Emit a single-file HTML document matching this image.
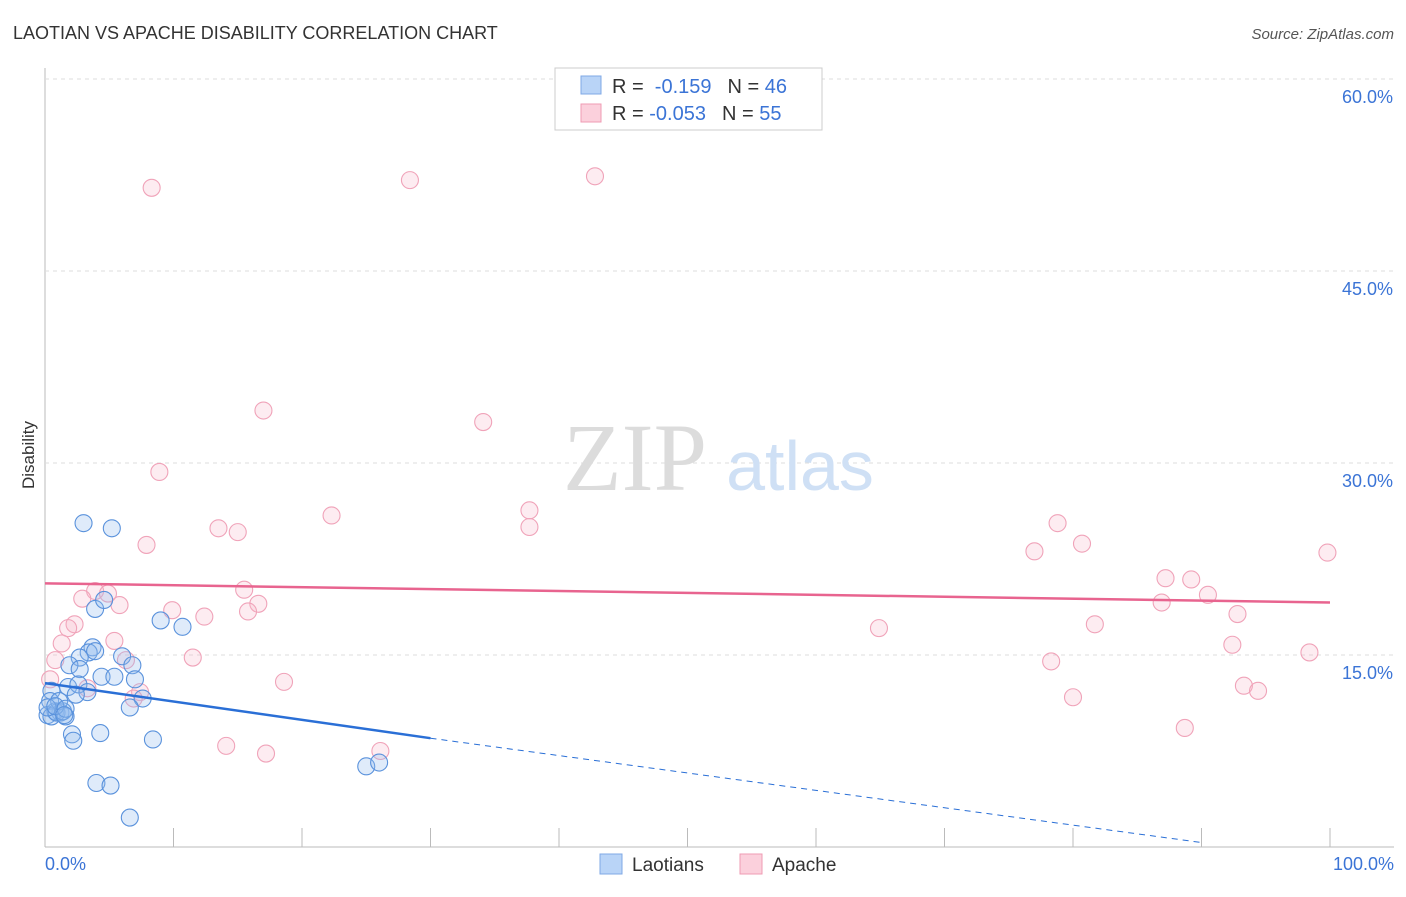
<!DOCTYPE html>
<html><head><meta charset="utf-8"><style>
body{margin:0;background:#fff;font-family:"Liberation Sans",sans-serif}
</style></head><body>
<svg width="1406" height="892">
<g id="grid"></g>
<text x="13" y="39" font-size="18" fill="#333">LAOTIAN VS APACHE DISABILITY CORRELATION CHART</text>
<text x="1394" y="39" font-size="15" fill="#555" font-style="italic" text-anchor="end">Source: ZipAtlas.com</text>
<text x="635" y="490" font-size="96" fill="#dcdcdc" font-family="Liberation Serif" text-anchor="middle">ZIP</text>
<text x="800" y="490" font-size="70" fill="#cfe0f5" text-anchor="middle">atlas</text>
<text x="34" y="455" font-size="17" fill="#333" transform="rotate(-90 34 455)" text-anchor="middle">Disability</text>
<text x="45" y="870" font-size="18" fill="#3b74d6">0.0%</text>
<text x="1394" y="870" font-size="18" fill="#3b74d6" text-anchor="end">100.0%</text>
<g id="marks"></g>
<g>
<rect x="555" y="68" width="267" height="62" fill="#fff" stroke="#ccc"/>
<rect x="581" y="76" width="20" height="18" fill="#b9d4f7" stroke="#7fa8e6"/>
<rect x="581" y="104" width="20" height="18" fill="#fbd0dc" stroke="#ef9bb3"/>
<text x="612" y="93" font-size="20" fill="#333">R = <tspan fill="#3b74d6">&#160;-0.159</tspan><tspan dx="16">N = </tspan><tspan fill="#3b74d6">46</tspan></text>
<text x="612" y="120" font-size="20" fill="#333">R = <tspan fill="#3b74d6">-0.053</tspan><tspan dx="16">N = </tspan><tspan fill="#3b74d6">55</tspan></text>
</g>
<g>
<rect x="600" y="854" width="22" height="20" fill="#b9d4f7" stroke="#7fa8e6"/>
<text x="632" y="871" font-size="19" fill="#333">Laotians</text>
<rect x="740" y="854" width="22" height="20" fill="#fbd0dc" stroke="#ef9bb3"/>
<text x="772" y="871" font-size="19" fill="#333">Apache</text>
</g>
</svg>
<script>
const yTicks=[15,30,45,60];
const yTickLabels=["15.0%","30.0%","45.0%","60.0%"];
const xTicks=[0,10,20,30,40,50,60,70,80,90,100];
const laoX=[3.0,5.2,3.9,4.6,9.0,10.7,3.7,3.4,3.9,2.7,1.9,2.7,6.0,6.8,4.4,5.4,7.0,1.8,2.6,3.3,2.4,7.6,6.6,0.5,0.4,0.8,1.2,0.2,0.5,0.9,1.6,1.4,2.1,2.2,4.3,8.4,4.0,5.1,6.6,25.0,26.0,1.1,0.2,0.8,1.6,1.5];
const laoY=[25.3,24.9,18.6,19.3,17.7,17.2,15.6,15.2,15.3,14.8,14.2,13.9,14.9,14.2,13.3,13.3,13.1,12.5,12.7,12.1,11.9,11.6,10.9,12.2,11.4,10.6,10.5,10.3,10.2,10.5,10.2,10.6,8.8,8.3,8.9,8.4,5.0,4.8,2.3,6.3,6.6,11.4,10.9,11.0,10.8,10.3];
const apX=[8.3,28.4,42.8,17.0,34.1,8.9,22.3,37.7,37.7,13.5,15.0,7.9,15.5,16.6,15.8,3.9,4.9,2.9,5.8,9.9,12.4,2.3,1.8,1.3,5.4,6.3,11.5,0.8,0.4,3.3,7.4,6.9,18.6,14.1,17.2,26.1,64.9,77.0,78.8,80.7,87.2,89.2,86.9,90.5,92.8,81.7,78.3,92.4,80.0,93.3,94.4,88.7,98.4,99.8];
const apY=[51.5,52.1,52.4,34.1,33.2,29.3,25.9,26.3,25.0,24.9,24.6,23.6,20.1,19.0,18.4,20.0,19.8,19.4,18.9,18.5,18.0,17.4,17.1,15.9,16.1,14.6,14.8,14.6,13.1,12.4,12.1,11.6,12.9,7.9,7.3,7.5,17.1,23.1,25.3,23.7,21.0,20.9,19.1,19.7,18.2,17.4,14.5,15.8,11.7,12.6,12.2,9.3,15.2,23.0];
const laoLine=[[0,12.8],[30,8.5]];
const laoDash=[[30,8.5],[90,0.35]];
const apLine=[[0,20.6],[100,19.1]];
const X=v=>45+v*12.85, Y=v=>847-v*12.8;
const NS="http://www.w3.org/2000/svg";
function mk(t,a,p){const e=document.createElementNS(NS,t);for(const k in a)e.setAttribute(k,a[k]);p.appendChild(e);return e;}
const g=document.getElementById('grid'), m=document.getElementById('marks');
let ax=mk('line',{x1:45,y1:68,x2:45,y2:847,stroke:'#bbb'},g);


let bx=mk('line',{x1:45,y1:847,x2:1394,y2:847,stroke:'#bbb'},g);


let tg=mk('line',{x1:45,y1:79,x2:1394,y2:79,stroke:'#ddd','stroke-dasharray':'4 4'},g);


yTicks.forEach((t,i)=>{
 const l=mk('line',{x1:45,y1:Y(t),x2:1394,y2:Y(t),stroke:'#ddd','stroke-dasharray':'4 4'},g);
 
 
 const tx=mk('text',{x:1393,y:Y(t)+24,'font-size':18,fill:'#3b74d6','text-anchor':'end'},g);
 tx.textContent=yTickLabels[i];
 
 
});
xTicks.forEach(t=>{
 const l=mk('line',{x1:X(t),y1:828,x2:X(t),y2:847,stroke:'#bbb'},g);
 
 
});
apX.forEach((x,i)=>{
 const c=mk('circle',{cx:X(x),cy:Y(apY[i]),r:8.5,fill:'rgba(248,180,200,0.25)',stroke:'#f0a3b9','stroke-width':1.1},m);
 
 
});
laoX.forEach((x,i)=>{
 const c=mk('circle',{cx:X(x),cy:Y(laoY[i]),r:8.5,fill:'rgba(150,190,240,0.3)',stroke:'#5a92dc','stroke-width':1.1},m);
 
 
});
let a=mk('line',{x1:X(apLine[0][0]),y1:Y(apLine[0][1]),x2:X(apLine[1][0]),y2:Y(apLine[1][1]),stroke:'#e8648f','stroke-width':2.5},m);


let b=mk('line',{x1:X(laoLine[0][0]),y1:Y(laoLine[0][1]),x2:X(laoLine[1][0]),y2:Y(laoLine[1][1]),stroke:'#2a6fd6','stroke-width':2.5},m);


let d=mk('line',{x1:X(laoDash[0][0]),y1:Y(laoDash[0][1]),x2:X(laoDash[1][0]),y2:Y(laoDash[1][1]),stroke:'#2a6fd6','stroke-width':1,'stroke-dasharray':'6 5'},m);


</script>
</body></html>
